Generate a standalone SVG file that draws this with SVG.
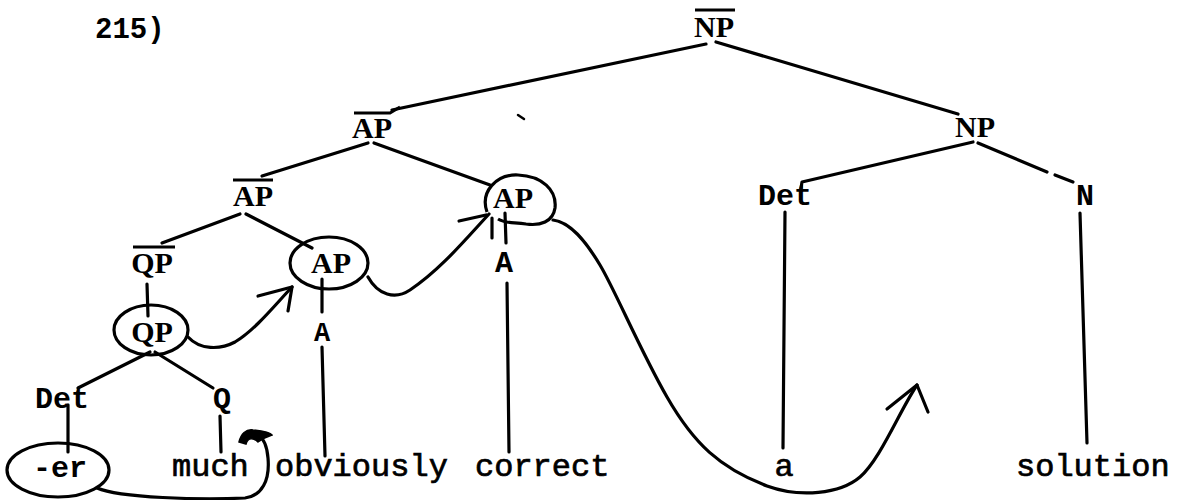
<svg xmlns="http://www.w3.org/2000/svg" width="1181" height="500" viewBox="0 0 1181 500">
<style>
.lab{font-family:"Liberation Serif",serif;font-weight:bold;font-size:30px;fill:#000;text-anchor:middle}
.cat{font-family:"Liberation Mono",monospace;font-weight:bold;font-size:30px;fill:#000;text-anchor:middle}
.word{font-family:"Liberation Mono",monospace;font-size:32px;fill:#000;stroke:#000;stroke-width:0.7}
.num{font-family:"Liberation Mono",monospace;font-weight:bold;font-size:29px;fill:#000}
.ln{stroke:#000;stroke-width:3.2;fill:none;stroke-linecap:round;stroke-linejoin:round}
.bar{stroke:#000;stroke-width:3;fill:none}
.ring{stroke:#000;stroke-width:3.2;fill:none}
</style>
<rect width="1181" height="500" fill="#fff"/>
<text class="num" x="95" y="38">215)</text>

<g id="connectors">
<path class="ln" d="M706,44 L392,110"/>
<path class="ln" d="M716,42 L958,114"/>
<path class="ln" d="M368,143 L262,176"/>
<path class="ln" d="M374,143 L490,185"/>
<path class="ln" d="M240,214 L162,243"/>
<path class="ln" d="M246,214 L312,248"/>
<path class="ln" d="M147,284 L148,316"/>
<path class="ln" d="M150,352 L78,388"/>
<path class="ln" d="M155,352 L213,388"/>
<path class="ln" d="M68,405 L68,452"/>
<path class="ln" d="M220,416 L221,452"/>
<path class="ln" d="M322,279 L322,312"/>
<path class="ln" d="M322,347 L325,456"/>
<path class="ln" d="M505,213 L506,243"/>
<path class="ln" d="M507,283 L509,452"/>
<path class="ln" d="M973,142 L802,182 L801,188"/>
<path class="ln" d="M978,143 L1047,172"/>
<path class="ln" d="M1055,175 L1073,182"/>
<path class="ln" d="M785,212 L783,448"/>
<path class="ln" d="M1080,213 L1087,443"/>
<path class="ln" d="M518,115 L524,119" style="stroke-width:2.5"/>
</g>

<g id="movement">
<path class="ln" d="M97,488 C120,498 200,500 245,498 C262,496 270,480 268,458 C267,446 264,439 259,436"/>
<path d="M239,442 C241,434 246,429 253,430 C262,431 270,432 272,435 C266,437 262,439 258,442 C254,438 248,437 246,444 Z" fill="#000" stroke="#000" stroke-width="1.5"/>
<path class="ln" d="M188,337 C200,350 220,350 235,342 C255,330 275,305 292,287"/>
<path class="ln" d="M258,296 L292,287 L288,311"/>
<path class="ln" d="M368,277 C378,295 395,300 410,290 C440,270 465,240 489,214"/>
<path class="ln" d="M459,221 L486,215"/>
<path class="ln" d="M492,218 L492,238"/>
<path class="ln" d="M553,220 C570,222 585,240 600,265 S640,350 667,397 S720,468 767,486 C800,498 840,494 860,477 S900,410 917,385"/>
<path class="ln" d="M887,409 L917,385 L928,412"/>
</g>

<g id="n-NPbar"><line class="bar" x1="695" y1="10" x2="735" y2="10"/><text class="lab" x="714" y="37">NP</text></g>
<g id="n-APbar1"><path class="bar" d="M354,113 L390,113 L400,107"/><text class="lab" x="372" y="138">AP</text></g>
<g id="n-APbar2"><line class="bar" x1="233" y1="180" x2="273" y2="180"/><text class="lab" x="253" y="206">AP</text></g>
<g id="n-QPbar"><line class="bar" x1="133" y1="247" x2="175" y2="247"/><text class="lab" x="152" y="273">QP</text></g>
<g id="n-APmid"><ellipse class="ring" cx="329" cy="263" rx="39" ry="26"/><text class="lab" x="331" y="273">AP</text></g>
<g id="n-APright"><path class="ring" d="M487,212 C480,192 496,174 518,175 C542,176 557,190 555,208 C553,222 540,226 526,224 C514,222 506,224 498,219"/><text class="lab" x="513" y="208">AP</text></g>
<g id="n-QPcirc"><ellipse class="ring" cx="151" cy="330" rx="37" ry="25"/><text class="lab" x="152" y="342">QP</text></g>
<g id="n-NP"><text class="lab" x="975" y="137">NP</text></g>
<g id="n-DetR"><text class="cat" x="785" y="205">Det</text></g>
<g id="n-N"><text class="cat" x="1085" y="205">N</text></g>
<g id="n-DetL"><text class="cat" x="62" y="408">Det</text></g>
<g id="n-Q"><text class="cat" x="222" y="408">Q</text></g>
<g id="n-Amid"><text class="cat" x="322" y="341" style="font-size:27px">A</text></g>
<g id="n-Aright"><text class="cat" x="504" y="272">A</text></g>
<g id="n-er"><ellipse class="ring" cx="58" cy="470" rx="51" ry="27"/><text class="cat" x="60" y="477">-er</text></g>
<g id="w-much"><text class="word" x="172" y="476">much</text></g>
<g id="w-obviously"><text class="word" x="275" y="476">obviously</text></g>
<g id="w-correct"><text class="word" x="475" y="476">correct</text></g>
<g id="w-a"><text class="word" x="784" y="476" text-anchor="middle">a</text></g>
<g id="w-solution"><text class="word" x="1016" y="476">solution</text></g>
</svg>
